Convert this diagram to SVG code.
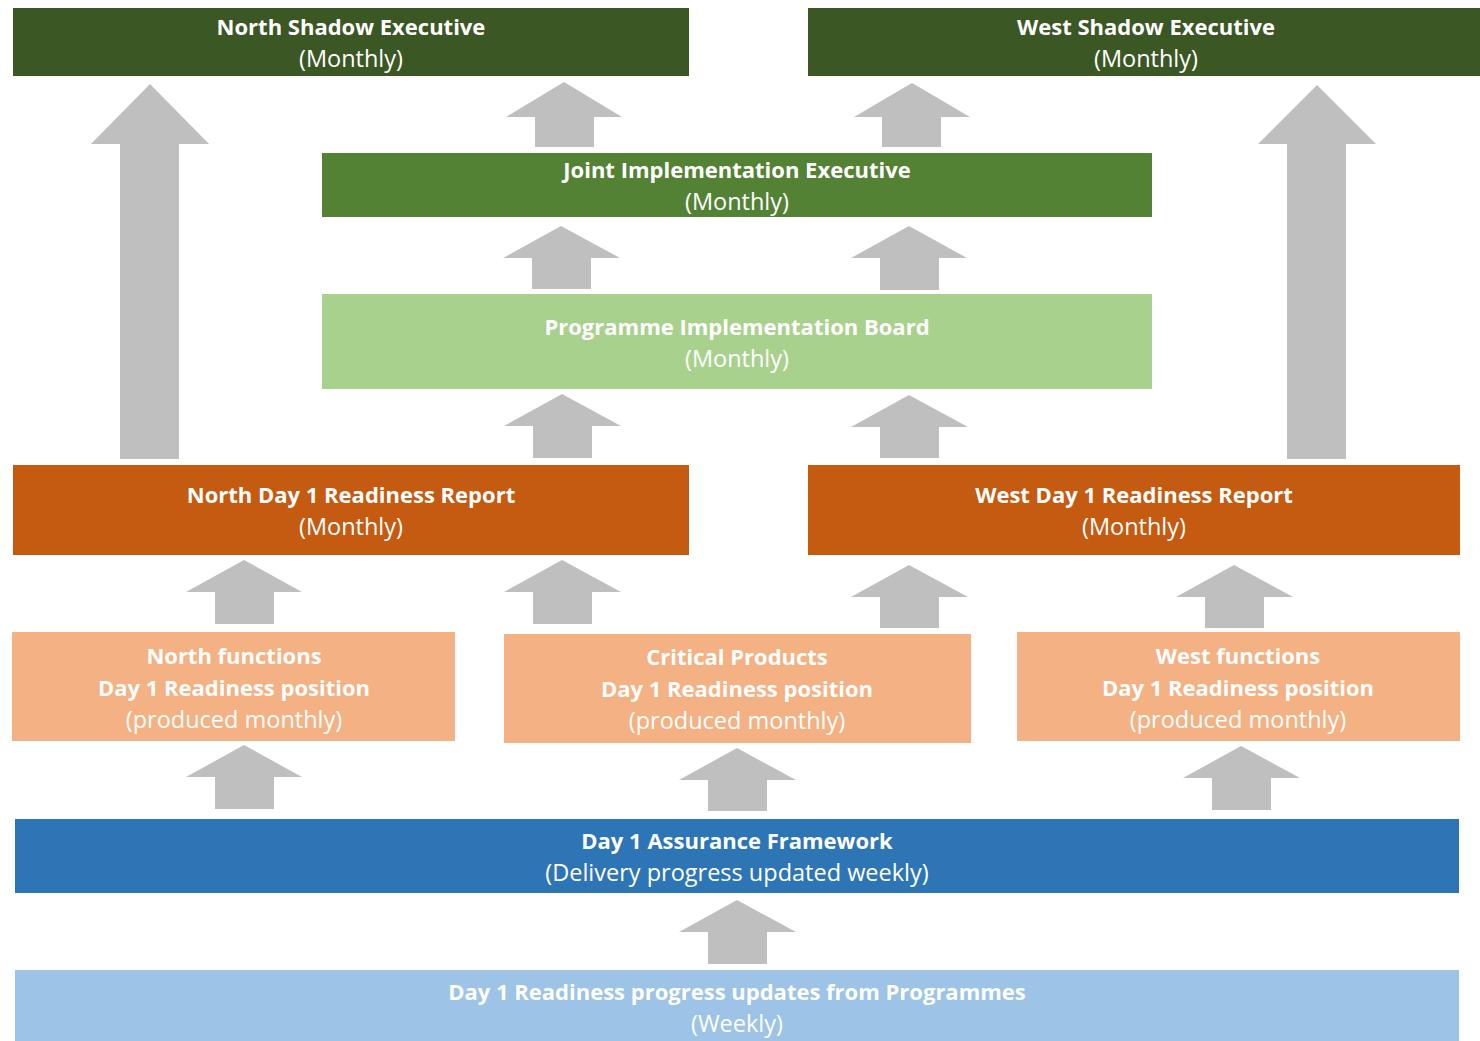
<svg xmlns="http://www.w3.org/2000/svg" width="1480" height="1041" viewBox="0 0 1480 1041">
<style>
.t{font-family:"Open Sans","Noto Sans","Liberation Sans",sans-serif;font-size:23.5px;fill:#ffffff;text-anchor:middle}
.b{font-weight:700;font-size:22px}
.arr{fill:#BFBFBF}
</style>
<rect width="1480" height="1041" fill="#ffffff"/>
<g id="connectors">
<polygon class="arr" points="150,84 209,144 179,144 179,459 120,459 120,144 91,144"/>
<polygon class="arr" points="1317,85 1376,144 1346,144 1346,459 1287,459 1287,144 1258,144"/>
<polygon class="arr" points="564,82 622,117 594,117 594,147 535,147 535,117 506,117"/>
<polygon class="arr" points="912,83 970,117 941,117 941,147 882,147 882,117 854,117"/>
<polygon class="arr" points="561,226 620,258 591,258 591,289 532,289 532,258 503,258"/>
<polygon class="arr" points="909,226 967,258 939,258 939,290 880,290 880,258 851,258"/>
<polygon class="arr" points="562,394 621,426 592,426 592,458 533,458 533,426 504,426"/>
<polygon class="arr" points="909,395 968,427 939,427 939,458 880,458 880,427 851,427"/>
<polygon class="arr" points="244,560 302,592 274,592 274,624 215,624 215,592 186,592"/>
<polygon class="arr" points="562,560 621,592 592,592 592,624 533,624 533,592 504,592"/>
<polygon class="arr" points="909,565 968,597 939,597 939,628 880,628 880,597 851,597"/>
<polygon class="arr" points="1234,565 1293,597 1264,597 1264,628 1205,628 1205,597 1176,597"/>
<polygon class="arr" points="244,745 302,777 274,777 274,809 215,809 215,777 186,777"/>
<polygon class="arr" points="737,748 796,780 767,780 767,811 708,811 708,780 679,780"/>
<polygon class="arr" points="1241,746 1300,778 1271,778 1271,810 1212,810 1212,778 1183,778"/>
<polygon class="arr" points="737,900 796,932 767,932 767,964 708,964 708,932 679,932"/>
</g>
<g id="north-shadow">
<rect x="13" y="8" width="676" height="68" fill="#3A5724"/>
<text class="t b" x="351" y="35">North Shadow Executive</text>
<text class="t" x="351" y="67">(Monthly)</text>
</g>
<g id="west-shadow">
<rect x="808" y="8" width="672" height="68" fill="#3A5724"/>
<text class="t b" x="1146" y="35">West Shadow Executive</text>
<text class="t" x="1146" y="67">(Monthly)</text>
</g>
<g id="joint">
<rect x="322" y="153" width="830" height="64" fill="#548235"/>
<text class="t b" x="737" y="178">Joint Implementation Executive</text>
<text class="t" x="737" y="210">(Monthly)</text>
</g>
<g id="pib">
<rect x="322" y="294" width="830" height="95" fill="#A9D18E"/>
<text class="t b" x="737" y="335">Programme Implementation Board</text>
<text class="t" x="737" y="367">(Monthly)</text>
</g>
<g id="north-report">
<rect x="13" y="465" width="676" height="90" fill="#C55A11"/>
<text class="t b" x="351" y="503">North Day 1 Readiness Report</text>
<text class="t" x="351" y="535">(Monthly)</text>
</g>
<g id="west-report">
<rect x="808" y="465" width="652" height="90" fill="#C55A11"/>
<text class="t b" x="1134" y="503">West Day 1 Readiness Report</text>
<text class="t" x="1134" y="535">(Monthly)</text>
</g>
<g id="north-functions">
<rect x="12" y="632" width="443" height="109" fill="#F4B183"/>
<text class="t b" x="234" y="664">North functions</text>
<text class="t b" x="234" y="696">Day 1 Readiness position</text>
<text class="t" x="234" y="728">(produced monthly)</text>
</g>
<g id="critical-products">
<rect x="504" y="634" width="467" height="109" fill="#F4B183"/>
<text class="t b" x="737" y="665">Critical Products</text>
<text class="t b" x="737" y="697">Day 1 Readiness position</text>
<text class="t" x="737" y="729">(produced monthly)</text>
</g>
<g id="west-functions">
<rect x="1017" y="632" width="443" height="109" fill="#F4B183"/>
<text class="t b" x="1238" y="664">West functions</text>
<text class="t b" x="1238" y="696">Day 1 Readiness position</text>
<text class="t" x="1238" y="728">(produced monthly)</text>
</g>
<g id="assurance">
<rect x="15" y="819" width="1444" height="74" fill="#2E75B6"/>
<text class="t b" x="737" y="849">Day 1 Assurance Framework</text>
<text class="t" x="737" y="881">(Delivery progress updated weekly)</text>
</g>
<g id="programme-updates">
<rect x="15" y="970" width="1444" height="71" fill="#9DC3E6"/>
<text class="t b" x="737" y="1000">Day 1 Readiness progress updates from Programmes</text>
<text class="t" x="737" y="1032">(Weekly)</text>
</g>
</svg>
